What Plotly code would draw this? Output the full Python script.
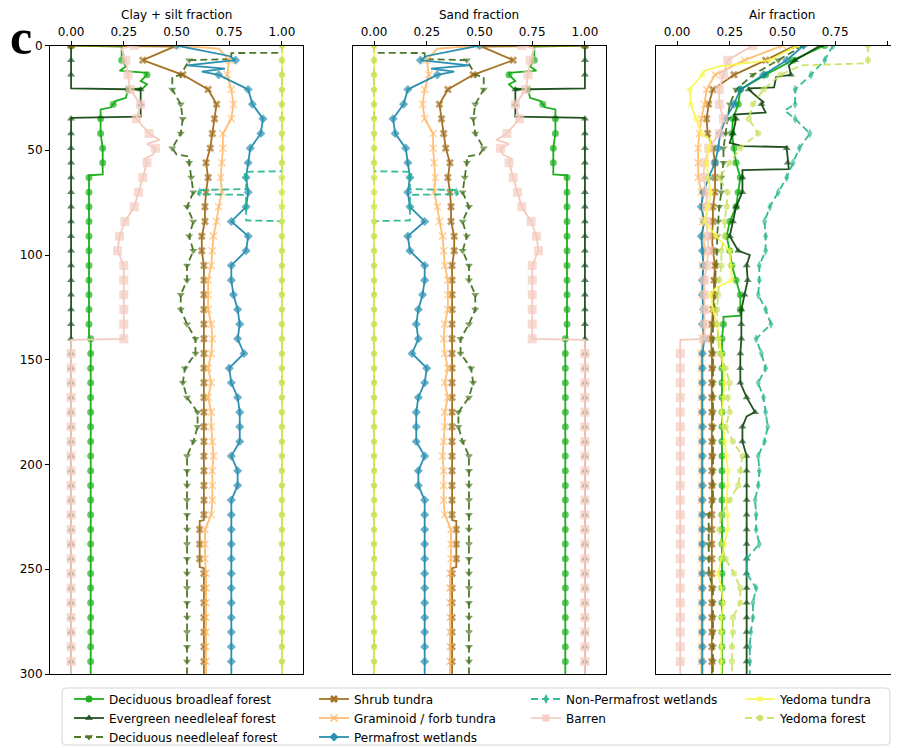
import plotly.graph_objects as go

# ---------------- data ----------------
# depths (cm) at which markers are drawn (every 7th level)
GRID = list(range(0, 295, 7))

NAMES = ["Deciduous broadleaf forest", "Evergreen needleleaf forest", "Deciduous needleleaf forest",
         "Shrub tundra", "Graminoid / forb tundra", "Permafrost wetlands",
         "Non-Permafrost wetlands", "Barren", "Yedoma tundra", "Yedoma forest"]

# ---- Clay + silt fraction: values at GRID depths, plus extra break points (depth, value) ----
clay_dbf = [0.0, 0.24, 0.36, 0.27, 0.20, 0.14, 0.14, 0.15, 0.15, 0.085, 0.085, 0.085, 0.085, 0.085, 0.085,
            0.085, 0.085, 0.085, 0.085, 0.085, 0.093] + [0.093] * 22
clay_dbf_x = [(0.5, 0.24), (10, 0.26), (12, 0.23), (13, 0.36), (17, 0.33), (18.5, 0.36), (20.5, 0.34),
              (20.8, 0.27), (25, 0.26), (26.5, 0.21), (29.5, 0.19), (30.5, 0.14), (61.5, 0.15), (62, 0.085),
              (139.5, 0.085), (300, 0.093)]
clay_enf = [0.0, 0.0, 0.0, 0.33, 0.33] + [0.0] * 38
clay_enf_x = [(20.5, 0.0), (34, 0.33), (34.5, 0.0), (300, 0.0)]
clay_dnf = [1.0, 0.56, 0.52, 0.48, 0.52, 0.53, 0.52, 0.48, 0.56, 0.57, 0.58, 0.55, 0.58, 0.56, 0.58, 0.55,
            0.55, 0.52, 0.52, 0.55, 0.59, 0.59, 0.54, 0.53, 0.55, 0.60, 0.60, 0.58, 0.55] + [0.55] * 14
clay_dnf_x = [(3.5, 1.0), (3.6, 0.76), (6.5, 0.76), (15, 0.48), (52, 0.50), (53, 0.56), (300, 0.55)]
clay_shrub = [0.0, 0.34, 0.53, 0.65, 0.69, 0.68, 0.67, 0.66, 0.64, 0.65, 0.64, 0.635, 0.635, 0.62, 0.62] \
    + [0.63] * 18 + [0.61] * 3 + [0.63] * 7
clay_shrub_x = [(0.5, 0.49), (226.5, 0.63), (227, 0.61), (249, 0.61), (249.5, 0.63), (300, 0.63)]
clay_gram = [0.50, 0.75, 0.74, 0.76, 0.77, 0.76, 0.72, 0.72, 0.715, 0.71, 0.715, 0.70, 0.69, 0.675, 0.67,
             0.665, 0.65, 0.65, 0.65, 0.665, 0.67, 0.665, 0.65, 0.665, 0.65, 0.665, 0.665, 0.67, 0.675,
             0.67, 0.67, 0.67, 0.665, 0.635, 0.635, 0.635] + [0.64] * 7
clay_gram_x = [(1.5, 0.70), (300, 0.64)]
clay_pw = [0.50, 0.78, 0.70, 0.84, 0.86, 0.91, 0.90, 0.85, 0.84, 0.83, 0.84, 0.83, 0.76, 0.84, 0.83, 0.76,
           0.76, 0.77, 0.79, 0.80, 0.79, 0.82, 0.75, 0.76, 0.79, 0.80, 0.80, 0.80, 0.76, 0.79, 0.79,
           0.76] + [0.76] * 11
clay_pw_x = [(5, 0.75), (9.5, 0.55), (11, 0.73), (12.5, 0.62), (17, 0.76), (300, 0.76)]
clay_npw = [1.0] * 9 + [0.83, 0.61, 0.83] + [1.0] * 31
clay_npw_x = [(60, 1.0), (60.3, 0.82), (68.5, 0.83), (69, 0.60), (71, 0.60), (71.3, 0.83), (83.5, 0.83),
              (83.8, 1.0), (300, 1.0)]
clay_barren = [0.30, 0.26, 0.27, 0.28, 0.33, 0.31, 0.37, 0.40, 0.36, 0.34, 0.32, 0.30, 0.255, 0.23, 0.22,
               0.25, 0.25, 0.25, 0.25, 0.25, 0.25] + [0.0] * 22
clay_barren_x = [(1.5, 0.24), (45, 0.42), (47, 0.36), (52, 0.39), (54, 0.35), (140.5, 0.0), (300, 0.0)]
clay_yt = [1.0] * 43
clay_yt_x = [(300, 1.0)]
clay_yf = [1.0] * 43
clay_yf_x = [(300, 1.0)]

# ---- Air fraction ----
air_dbf = [0.70, 0.55, 0.42, 0.30, 0.29, 0.265, 0.26, 0.27, 0.28, 0.30, 0.29, 0.28, 0.25, 0.235, 0.25,
           0.26, 0.28, 0.30, 0.30, 0.22] + [0.213] * 23
air_dbf_x = [(129, 0.30), (129.5, 0.22), (300, 0.213)]
air_enf = [0.68, 0.56, 0.54, 0.34, 0.40, 0.28, 0.265, 0.52, 0.525, 0.31, 0.31, 0.28, 0.265, 0.25, 0.29,
           0.33, 0.335, 0.32, 0.305, 0.305, 0.305, 0.30, 0.30, 0.30, 0.33, 0.37, 0.31, 0.31, 0.33] + [0.33] * 14
air_enf_x = [(9.5, 0.53), (15, 0.47), (20, 0.46), (20.5, 0.34), (25, 0.385), (27, 0.41), (32, 0.42),
             (33, 0.27), (46.5, 0.25), (48, 0.31), (48.5, 0.52), (59, 0.53), (59.5, 0.31), (100, 0.345),
             (177, 0.33), (300, 0.33)]
air_dnf = [0.60, 0.48, 0.36, 0.28, 0.25, 0.24, 0.23, 0.22, 0.22, 0.21, 0.21, 0.20, 0.195, 0.19, 0.19,
           0.185, 0.18, 0.18, 0.175, 0.17] + [0.17] * 12 + [0.15] * 5 + [0.17] * 6
air_dnf_x = [(300, 0.17)]
air_shrub = [0.56, 0.42, 0.27, 0.17, 0.15, 0.14, 0.145, 0.17, 0.18, 0.18, 0.18, 0.17, 0.17, 0.165, 0.17,
             0.18, 0.175, 0.175, 0.17, 0.165, 0.16] + [0.165] * 22
air_shrub_x = [(300, 0.165)]
air_gram = [0.50, 0.32, 0.18, 0.14, 0.13, 0.115, 0.105, 0.10, 0.10, 0.10, 0.115, 0.12, 0.12, 0.125, 0.13,
            0.12, 0.125, 0.12, 0.13, 0.125, 0.12] + [0.115] * 22
air_gram_x = [(300, 0.115)]
air_pw = [0.60, 0.52, 0.41, 0.30, 0.27, 0.23, 0.205, 0.195, 0.18, 0.15, 0.125, 0.115, 0.13, 0.115, 0.12,
          0.125, 0.12, 0.12, 0.125, 0.12, 0.13] + [0.12] * 22
air_pw_x = [(300, 0.12)]
air_npw = [0.74, 0.70, 0.635, 0.56, 0.56, 0.56, 0.63, 0.58, 0.55, 0.52, 0.48, 0.44, 0.415, 0.42, 0.42,
           0.39, 0.39, 0.385, 0.42, 0.445, 0.375, 0.40, 0.42, 0.385, 0.41, 0.42, 0.43, 0.415, 0.385, 0.39,
           0.385, 0.37, 0.375, 0.375, 0.39, 0.33, 0.33, 0.375, 0.36, 0.36, 0.35, 0.345, 0.345]
air_npw_x = [(31, 0.51), (300, 0.345)]
air_barren = [0.36, 0.24, 0.22, 0.20, 0.20, 0.22, 0.20, 0.15, 0.13, 0.125, 0.14, 0.14, 0.14, 0.145, 0.15,
              0.14, 0.13, 0.13, 0.13, 0.13, 0.13] + [0.015] * 22
air_barren_x = [(140.5, 0.015), (300, 0.015)]
air_yt = [0.57, 0.44, 0.12, 0.06, 0.065, 0.09, 0.115, 0.15, 0.14, 0.147, 0.16, 0.147, 0.13, 0.185, 0.25,
          0.255, 0.26, 0.16, 0.17, 0.19, 0.20, 0.21, 0.22, 0.225, 0.22, 0.21, 0.22, 0.225, 0.235, 0.24,
          0.24, 0.235, 0.24, 0.24, 0.225, 0.21, 0.195, 0.21, 0.22, 0.21, 0.21, 0.21, 0.21]
air_yt_x = [(10, 0.20), (12, 0.13), (45, 0.16), (116, 0.18), (300, 0.21)]
air_yf = [0.905, 0.905, 0.49, 0.41, 0.36, 0.34, 0.385, 0.30, 0.25, 0.20, 0.24, 0.235, 0.225, 0.225, 0.21,
          0.21, 0.20, 0.195, 0.19, 0.19, 0.195, 0.20, 0.23, 0.25, 0.24, 0.25, 0.23, 0.265, 0.31, 0.30,
          0.29, 0.25, 0.21, 0.20, 0.21, 0.23, 0.27, 0.30, 0.30, 0.265, 0.265, 0.26, 0.26]
air_yf_x = [(8.5, 0.905), (9.5, 0.59), (300, 0.26)]

CLAY = [(clay_dbf, clay_dbf_x), (clay_enf, clay_enf_x), (clay_dnf, clay_dnf_x), (clay_shrub, clay_shrub_x),
        (clay_gram, clay_gram_x), (clay_pw, clay_pw_x), (clay_npw, clay_npw_x), (clay_barren, clay_barren_x),
        (clay_yt, clay_yt_x), (clay_yf, clay_yf_x)]
AIR = [(air_dbf, air_dbf_x), (air_enf, air_enf_x), (air_dnf, air_dnf_x), (air_shrub, air_shrub_x),
       (air_gram, air_gram_x), (air_pw, air_pw_x), (air_npw, air_npw_x), (air_barren, air_barren_x),
       (air_yt, air_yt_x), (air_yf, air_yf_x)]

X_TICKS = [0.0, 0.25, 0.5, 0.75, 1.0]
X_TICKTEXT = ["0.00", "0.25", "0.50", "0.75", "1.00"]
Y_TICKS = [0, 50, 100, 150, 200, 250, 300]

# ---------------- styles ----------------
COLORS = ["#06a806", "#0b420b", "#3b6b14", "#9b650e", "#ffb764", "#1585a9", "#20b48b", "#f3cbbe",
          "#f8f84a", "#c8e05a"]
DASHES = ["solid", "solid", "7px,4px", "solid", "solid", "solid", "7px,4px", "solid", "solid", "7px,4px"]
SYMBOLS = ["circle", "triangle-up", "triangle-down", "x", "x-thin-open", "diamond", "diamond-tall",
           "square", "star", "hexagon"]
SIZES = [7, 7, 7, 7, 7, 7, 7, 9, 7, 7]
OPAC = [0.9, 0.9, 0.9, 0.9, 0.9, 0.9, 0.9, 1.0, 0.9, 0.9]
LEGENDS = ["legend", "legend", "legend", "legend2", "legend2", "legend2", "legend3", "legend3",
           "legend4", "legend4"]

# the page body has an 8 px margin: the figure is drawn 8 px in from the window's top-left corner
OFF = 8
W, H = 899 - OFF, 748 - OFF


def px(x):
    return (x - OFF) / W


def py(y):
    return 1 - (y - OFF) / H


def build(grid_vals, extra):
    pts = [(d, v, True) for d, v in zip(GRID, grid_vals)] + [(d, v, False) for d, v in extra]
    pts.sort(key=lambda p: p[0])
    return [p[0] for p in pts], [p[1] for p in pts], [p[2] for p in pts]


fig = go.Figure()
for panel, data in ((1, CLAY), (2, CLAY), (3, AIR)):
    for i, (gv, ex) in enumerate(data):
        d, v, m = build(gv, ex)
        if panel == 2:
            v = [1 - t for t in v]
        msym = SYMBOLS[i]
        open_sym = msym.endswith("open")
        fig.add_trace(go.Scatter(
            x=v, y=d, mode="lines+markers",
            line=dict(color=COLORS[i], width=1.8, dash=DASHES[i]),
            marker=dict(symbol=msym, size=[SIZES[i] if f else 0 for f in m], color=COLORS[i],
                        line=dict(color=COLORS[i], width=1.5 if open_sym else 0)),
            opacity=OPAC[i], showlegend=False, hoverinfo="skip",
            xaxis="x" if panel == 1 else f"x{panel}", yaxis="y" if panel == 1 else f"y{panel}",
        ))

# legend entries
for i, name in enumerate(NAMES):
    msym = SYMBOLS[i]
    fig.add_trace(go.Scatter(
        x=[None], y=[None], mode="lines+markers", name=name,
        line=dict(color=COLORS[i], width=1.8, dash=DASHES[i]),
        marker=dict(symbol=msym, size=7, color=COLORS[i],
                    line=dict(color=COLORS[i], width=1.5 if msym.endswith("open") else 0)),
        opacity=0.9, legend=LEGENDS[i], showlegend=True, xaxis="x", yaxis="y"))

FONT = "DejaVu Sans"
ydom = [py(674), py(45.5)]
panels_px = [(50, 303), (353, 606), (656, 899)]
xranges = [[-0.1, 1.1], [-0.1, 1.1], [-0.1, -0.1 + (899 - 656) / 210.8]]

layout = dict(width=W, height=H, margin=dict(l=0, r=0, t=0, b=0, autoexpand=False), paper_bgcolor="white",
              plot_bgcolor="white", font=dict(family=FONT, size=12, color="black"))
for k, ((a, b), rng) in enumerate(zip(panels_px, xranges), start=1):
    sx = "" if k == 1 else str(k)
    layout[f"xaxis{sx}"] = dict(domain=[px(a), px(b)], range=rng, side="top", tickvals=X_TICKS,
                                ticktext=X_TICKTEXT, ticks="outside", ticklen=4, tickcolor="black",
                                showline=True, linecolor="black", linewidth=1, mirror=True,
                                showgrid=False, zeroline=False, anchor="y" if k == 1 else f"y{k}",
                                tickfont=dict(size=12), automargin=False)
    layout[f"yaxis{sx}"] = dict(domain=ydom, range=[300, 0], showgrid=False, zeroline=False,
                                showline=True, linecolor="black", linewidth=1, mirror=(k != 3),
                                anchor="x" if k == 1 else f"x{k}",
                                tickvals=Y_TICKS if k == 1 else [], ticks="outside" if k == 1 else "",
                                ticklen=4, tickcolor="black", showticklabels=(k == 1),
                                tickfont=dict(size=12), automargin=False)

leg_common = dict(bgcolor="rgba(0,0,0,0)", borderwidth=0, orientation="v", xanchor="left", yanchor="top",
                  font=dict(family=FONT, size=12, color="black"), tracegroupgap=0, itemclick=False)
leg_x = [69, 314, 526, 740]
for j, lx in enumerate(leg_x):
    key = "legend" if j == 0 else f"legend{j + 1}"
    layout[key] = dict(leg_common, x=px(lx), y=py(684.5))
fig.update_layout(**layout)

# axis titles
titles = ["Clay + silt fraction", "Sand fraction", "Air fraction"]
for (a, b), t, rng in zip(panels_px, titles, xranges):
    x0 = a + (0.5 - rng[0]) * 210.8
    fig.add_annotation(text=t, x=px(x0), y=py(15.5), xref="paper", yref="paper", showarrow=False,
                       xanchor="center", yanchor="middle", font=dict(family=FONT, size=12, color="black"))

# panel label
fig.add_annotation(text="<b>c</b>", x=px(21), y=py(37.5), xref="paper", yref="paper", showarrow=False,
                   xanchor="center", yanchor="middle",
                   font=dict(family="Liberation Serif", size=50, color="black"))

# legend frame (rounded)
x0, x1, y0, y1 = px(62), px(890), py(745), py(688)
rx, ry = 4 / W, 4 / H
path = (f"M {x0 + rx},{y1} L {x1 - rx},{y1} Q {x1},{y1} {x1},{y1 - ry} L {x1},{y0 + ry} "
        f"Q {x1},{y0} {x1 - rx},{y0} L {x0 + rx},{y0} Q {x0},{y0} {x0},{y0 + ry} L {x0},{y1 - ry} "
        f"Q {x0},{y1} {x0 + rx},{y1} Z")
fig.add_shape(type="path", path=path, xref="paper", yref="paper",
              line=dict(color="#d5d5d5", width=1), fillcolor="white", layer="below")

fig.write_html("out.html")
